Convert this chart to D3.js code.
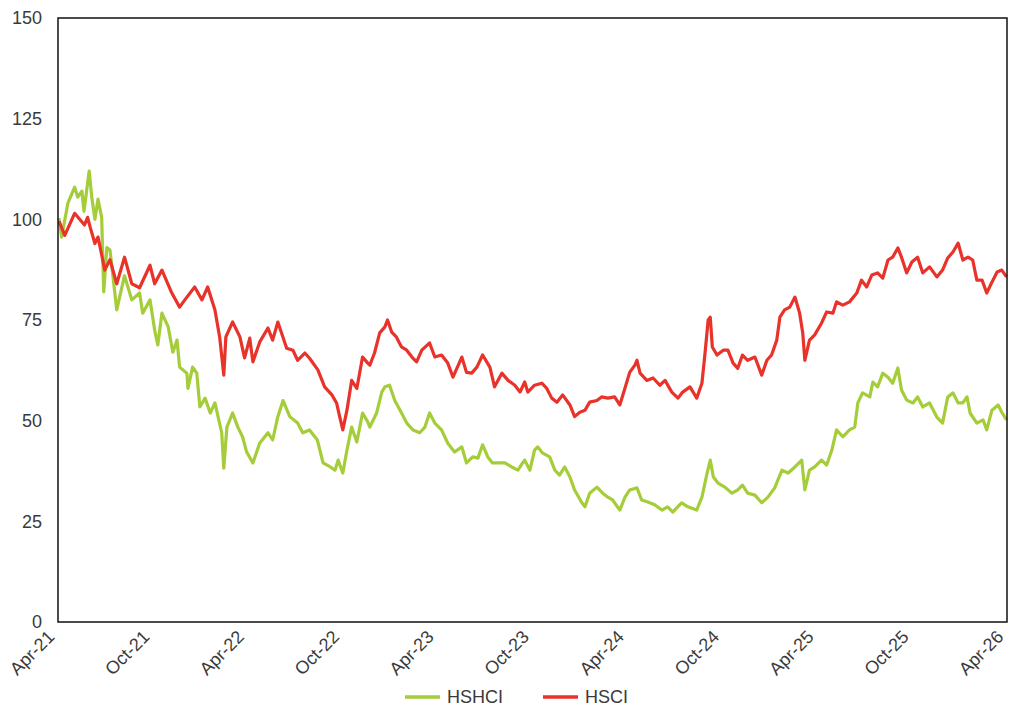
<!DOCTYPE html>
<html>
<head>
<meta charset="utf-8">
<script src="https://cdnjs.cloudflare.com/ajax/libs/d3/7.8.5/d3.min.js"></script>
<style>
  body { margin: 0; background: #fff; }
  svg { display: block; font-family: "Liberation Sans", Arial, sans-serif; }
</style>
</head>
<body>
<svg width="1009" height="706"></svg>
<script>
// HSHCI (healthcare index), rebased to 100
var hshciDates = ["2021-04-03","2021-04-08","2021-04-20","2021-05-03","2021-05-09","2021-05-17","2021-05-21","2021-05-31","2021-06-05","2021-06-11","2021-06-17","2021-06-24","2021-06-28","2021-07-04","2021-07-10","2021-07-23","2021-08-07","2021-08-21","2021-09-05","2021-09-11","2021-09-25","2021-10-04","2021-10-10","2021-10-18","2021-10-30","2021-11-08","2021-11-16","2021-11-21","2021-12-05","2021-12-07","2021-12-16","2021-12-24","2021-12-30","2022-01-09","2022-01-19","2022-01-28","2022-02-10","2022-02-14","2022-02-20","2022-03-03","2022-03-13","2022-03-22","2022-03-30","2022-04-11","2022-04-24","2022-05-10","2022-05-19","2022-05-29","2022-06-08","2022-06-21","2022-07-06","2022-07-16","2022-07-29","2022-08-13","2022-08-24","2022-09-07","2022-09-16","2022-09-22","2022-10-01","2022-10-09","2022-10-18","2022-10-28","2022-11-08","2022-11-18","2022-11-22","2022-12-05","2022-12-15","2022-12-21","2022-12-30","2023-01-09","2023-01-22","2023-02-01","2023-02-13","2023-02-26","2023-03-08","2023-03-17","2023-03-27","2023-04-09","2023-04-21","2023-05-04","2023-05-18","2023-05-27","2023-06-08","2023-06-18","2023-06-27","2023-07-07","2023-07-16","2023-07-26","2023-08-09","2023-08-22","2023-09-03","2023-09-12","2023-09-16","2023-09-26","2023-10-05","2023-10-11","2023-10-20","2023-11-03","2023-11-13","2023-11-22","2023-12-02","2023-12-12","2023-12-21","2024-01-04","2024-01-10","2024-01-19","2024-02-02","2024-02-13","2024-02-23","2024-03-03","2024-03-17","2024-03-27","2024-04-05","2024-04-19","2024-04-28","2024-05-10","2024-05-23","2024-06-06","2024-06-17","2024-06-27","2024-07-10","2024-07-14","2024-07-26","2024-08-12","2024-08-22","2024-09-01","2024-09-07","2024-09-13","2024-09-22","2024-10-05","2024-10-19","2024-10-30","2024-11-08","2024-11-18","2024-12-02","2024-12-15","2024-12-27","2025-01-09","2025-01-23","2025-02-04","2025-02-17","2025-03-02","2025-03-08","2025-03-17","2025-03-27","2025-04-09","2025-04-19","2025-04-29","2025-05-08","2025-05-20","2025-06-02","2025-06-12","2025-06-18","2025-06-27","2025-07-11","2025-07-17","2025-07-26","2025-08-05","2025-08-15","2025-08-24","2025-09-03","2025-09-10","2025-09-20","2025-10-02","2025-10-11","2025-10-21","2025-11-03","2025-11-17","2025-11-28","2025-12-08","2025-12-18","2025-12-28","2026-01-06","2026-01-14","2026-01-20","2026-02-02","2026-02-14","2026-02-21","2026-03-03","2026-03-15","2026-03-22","2026-03-31"];
var hshciValues = [100.3,95.6,104,108,105.5,107,102,112,105.5,100,105,100.5,82,93,92.4,77.5,86,80,81.7,76.7,80,72.5,68.8,76.7,73.3,67,70,63.3,61.8,58,63.3,61.8,53.4,55.6,51.9,54.4,47,38.2,48.4,51.9,48.4,46,42.2,39.5,44.4,47,45.2,51,55,51,49.4,47,47.7,45.2,39.5,38.5,37.7,40.2,37,42.7,48.4,44.7,51.9,49.7,48.4,51.9,57.1,58.4,58.8,55,51.9,49.4,47.7,47,48.4,51.9,49.4,47.7,44.4,42.2,43.5,39.5,41,40.7,44,41,39.5,39.5,39.5,38.5,37.7,39.5,40.2,37.7,42.7,43.5,42,41,37.7,36.5,38.5,36,32.8,29.6,28.6,32,33.5,32,31,30.3,27.8,31,32.8,33.3,30.3,29.8,29.1,27.8,28.6,27.3,29.1,29.6,28.6,27.8,31,37,40.2,36,34.5,33.5,32,32.8,34,32,31.5,29.6,31,33.3,37.7,37,38.5,40.2,32.8,37.7,38.5,40.2,39,42.7,47.7,46,47.7,48.4,54.4,56.9,55.9,59.6,58.4,61.8,60.8,59.3,63.1,57.6,55.1,54.4,55.9,53.4,54.4,50.9,49.4,55.9,56.9,54.4,54.4,55.9,51.9,49.4,50.2,47.7,52.6,53.9,52.1,50.2];

// HSCI (composite index), rebased to 100
var hsciDates = ["2021-04-03","2021-04-14","2021-05-03","2021-05-22","2021-05-28","2021-06-02","2021-06-11","2021-06-17","2021-06-30","2021-07-10","2021-07-23","2021-08-07","2021-08-21","2021-09-05","2021-09-25","2021-10-04","2021-10-18","2021-11-06","2021-11-21","2021-12-01","2021-12-20","2022-01-03","2022-01-14","2022-01-28","2022-02-06","2022-02-14","2022-02-18","2022-03-03","2022-03-17","2022-03-26","2022-04-05","2022-04-11","2022-04-24","2022-05-10","2022-05-19","2022-05-29","2022-06-15","2022-06-27","2022-07-06","2022-07-20","2022-07-29","2022-08-14","2022-08-27","2022-09-10","2022-09-19","2022-09-25","2022-10-01","2022-10-09","2022-10-18","2022-10-28","2022-11-08","2022-11-18","2022-11-22","2022-12-01","2022-12-11","2022-12-21","2022-12-26","2023-01-03","2023-01-12","2023-01-22","2023-02-01","2023-02-11","2023-02-20","2023-03-02","2023-03-17","2023-03-27","2023-04-09","2023-04-21","2023-05-01","2023-05-18","2023-05-27","2023-06-06","2023-06-16","2023-06-27","2023-07-11","2023-07-20","2023-08-03","2023-08-15","2023-08-28","2023-09-07","2023-09-16","2023-09-22","2023-10-05","2023-10-19","2023-10-28","2023-11-07","2023-11-17","2023-11-28","2023-12-12","2023-12-21","2023-12-31","2024-01-10","2024-01-19","2024-02-02","2024-02-11","2024-02-23","2024-03-07","2024-03-17","2024-03-27","2024-04-05","2024-04-15","2024-04-19","2024-04-25","2024-05-08","2024-05-20","2024-06-02","2024-06-12","2024-06-25","2024-07-07","2024-07-16","2024-07-30","2024-08-12","2024-08-22","2024-08-28","2024-09-03","2024-09-07","2024-09-11","2024-09-20","2024-10-02","2024-10-11","2024-10-21","2024-10-30","2024-11-08","2024-11-18","2024-12-02","2024-12-15","2024-12-25","2025-01-03","2025-01-13","2025-01-19","2025-01-28","2025-02-07","2025-02-17","2025-02-26","2025-03-04","2025-03-08","2025-03-17","2025-03-27","2025-04-09","2025-04-19","2025-05-01","2025-05-08","2025-05-20","2025-06-02","2025-06-16","2025-06-25","2025-07-05","2025-07-15","2025-07-26","2025-08-05","2025-08-15","2025-08-24","2025-09-03","2025-09-10","2025-09-20","2025-09-30","2025-10-11","2025-10-21","2025-11-03","2025-11-17","2025-11-28","2025-12-08","2025-12-18","2025-12-28","2026-01-06","2026-01-16","2026-01-25","2026-02-02","2026-02-12","2026-02-21","2026-03-03","2026-03-13","2026-03-22","2026-03-31"];
var hsciValues = [99.5,96,101.5,98.6,100.5,98,94,95.6,87.4,90,84,90.6,84,83,88.6,84,87.4,81.7,78.2,80,83.2,80,83.2,77.5,70.8,61.3,70.8,74.5,70.8,65.6,70.5,64.6,69.5,73,70,74.5,68,67.5,65,66.8,65.5,62.6,58.4,56.4,54.4,51,47.7,52.6,60,58,65.8,64.3,63.8,66.8,71.8,73.3,75,72,70.8,68.3,67.5,65.8,64.6,67.5,69.3,65.8,66.3,64.3,60.8,65.8,62,61.8,63.3,66.3,63.3,58.4,61.8,60,58.8,57.1,59.6,57.1,58.8,59.3,58.1,55.6,54.6,56.4,53.9,51,52.1,52.6,54.6,55,55.9,55.6,55.9,53.9,58.1,62,63.8,65,61.8,60,60.6,58.8,60,57.1,55.6,57.1,58.4,55.6,59.3,66.8,75,75.7,68.3,66.3,67.5,67.5,64.3,63,66.3,65,65.8,61.3,65,66.3,70,75.7,77.5,78.2,80.7,76.7,71.8,65,70,71.3,74.2,77,76.7,79.5,78.7,79.5,81.7,84.9,83.2,86.2,86.7,85.4,89.9,90.6,92.9,90.6,86.7,89.4,90.6,86.7,88.2,85.7,87.4,90.4,91.9,94.1,89.9,90.6,89.9,84.9,84.9,81.7,84.4,86.9,87.4,85.7];

var yTicks = [0, 25, 50, 75, 100, 125, 150];
var xTickDates = ["2021-04-01","2021-10-01","2022-04-01","2022-10-01","2023-04-01","2023-10-01","2024-04-01","2024-10-01","2025-04-01","2025-10-01","2026-04-01"];

var parse = d3.timeParse("%Y-%m-%d");

var series = [
    { name: "HSHCI", color: "#a5cd39", dates: hshciDates, values: hshciValues },
    { name: "HSCI",  color: "#e8322a", dates: hsciDates,  values: hsciValues }
];

var svg = d3.select("svg");
// plot box edges (not "top": that name is taken by window.top)
var plotLeft = 58, plotRight = 1007, plotTop = 18, plotBottom = 622;

var x = d3.scaleTime()
    .domain([parse(xTickDates[0]), parse(xTickDates[xTickDates.length - 1])])
    .range([plotLeft, plotRight]);

var y = d3.scaleLinear()
    .domain([0, 150])
    .range([plotBottom, plotTop]);

// y axis labels
var yAxis = svg.append("g")
    .attr("transform", "translate(" + plotLeft + ",0)")
    .call(d3.axisLeft(y).tickValues(yTicks).tickSize(0).tickPadding(16));
yAxis.select(".domain").remove();
yAxis.selectAll("text")
    .attr("fill", "#3a3a3a")
    .style("font-size", "18px");

// x axis labels, rotated
var xAxis = svg.append("g")
    .attr("transform", "translate(0," + plotBottom + ")")
    .call(d3.axisBottom(x).tickValues(xTickDates.map(parse)).tickSize(0).tickFormat(d3.timeFormat("%b-%y")));
xAxis.select(".domain").remove();
xAxis.selectAll("text")
    .attr("fill", "#3a3a3a")
    .style("font-size", "18px")
    .style("text-anchor", "end")
    .attr("dy", "0")
    .attr("y", 0)
    .attr("transform", "translate(-3,16) rotate(-45)");

// lines
var line = d3.line()
    .x(function(d) { return x(d.date); })
    .y(function(d) { return y(d.value); });

series.forEach(function(s) {
    var pts = s.dates.map(function(d, i) { return { date: parse(d), value: s.values[i] }; });
    svg.append("path")
        .datum(pts)
        .attr("fill", "none")
        .attr("stroke", s.color)
        .attr("stroke-width", 3.2)
        .attr("stroke-linejoin", "round")
        .attr("d", line);
});

// plot frame
svg.append("rect")
    .attr("x", plotLeft)
    .attr("y", plotTop)
    .attr("width", plotRight - plotLeft)
    .attr("height", plotBottom - plotTop)
    .attr("fill", "none")
    .attr("stroke", "#111")
    .attr("stroke-width", 1.5);

// legend
var legend = svg.selectAll(".legend")
    .data(series)
    .enter().append("g")
    .attr("class", "legend")
    .attr("transform", function(d, i) { return "translate(" + (405 + i * 138) + ",697)"; });

legend.append("line")
    .attr("x1", 0).attr("x2", 35)
    .attr("stroke", function(d) { return d.color; })
    .attr("stroke-width", 3.5);

legend.append("text")
    .attr("x", 42)
    .attr("dy", "0.35em")
    .attr("fill", "#3a3a3a")
    .style("font-size", "18px")
    .text(function(d) { return d.name; });
</script>
</body>
</html>
